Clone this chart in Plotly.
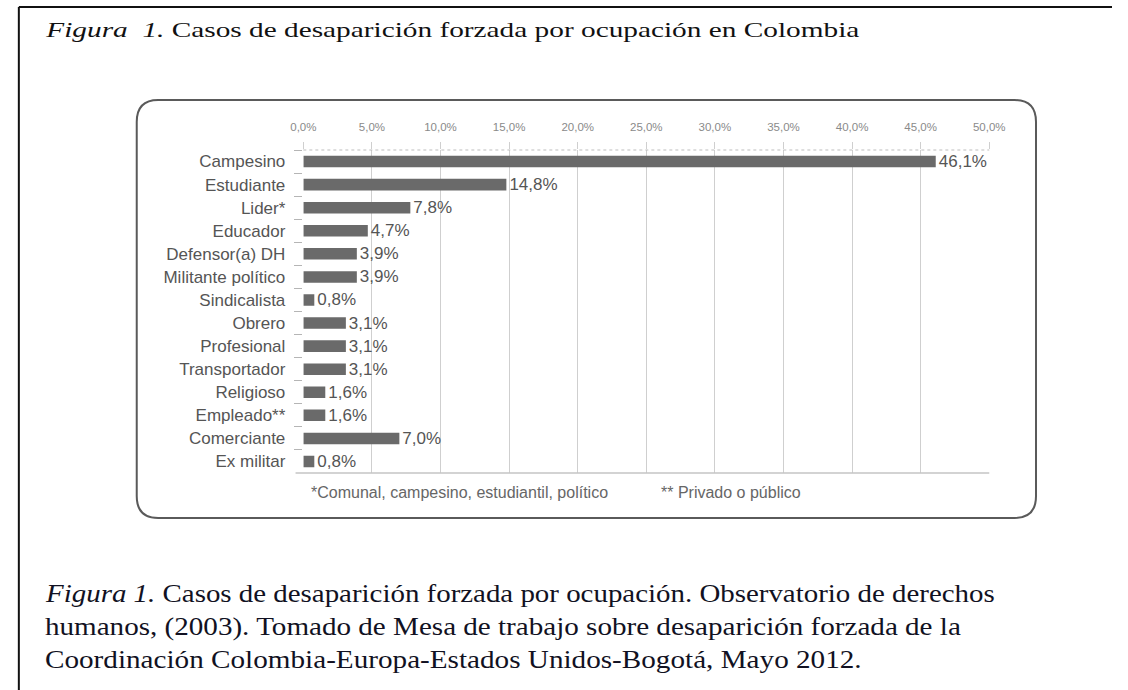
import plotly.graph_objects as go

# ---- data ----
categories = ["Campesino", "Estudiante", "Lider*", "Educador", "Defensor(a) DH",
              "Militante político", "Sindicalista", "Obrero", "Profesional",
              "Transportador", "Religioso", "Empleado**", "Comerciante", "Ex militar"]
values = [46.1, 14.8, 7.8, 4.7, 3.9, 3.9, 0.8, 3.1, 3.1, 3.1, 1.6, 1.6, 7.0, 0.8]
tick_vals = [0, 5, 10, 15, 20, 25, 30, 35, 40, 45, 50]
tick_text = ["0,0%", "5,0%", "10,0%", "15,0%", "20,0%", "25,0%", "30,0%",
             "35,0%", "40,0%", "45,0%", "50,0%"]
value_labels = [f"{v:.1f}%".replace(".", ",") for v in values]

title_text = "<i>Figura\u00a0\u00a01.</i> Casos de desaparición forzada por ocupación en Colombia"
caption_lines = [
    "<i>Figura 1.</i> Casos de desaparición forzada por ocupación. Observatorio de derechos",
    "humanos, (2003). Tomado de Mesa de trabajo sobre desaparición forzada de la",
    "Coordinación Colombia-Europa-Estados Unidos-Bogotá, Mayo 2012.",
]
footnote_1 = "*Comunal, campesino, estudiantil, político"
footnote_2 = "** Privado o público"

W, H = 1128, 690


def px(x):
    return x / W


def py(y):
    return 1 - y / H


SANS = "Liberation Sans, Arial, sans-serif"
SERIF = "Liberation Serif, Times New Roman, serif"

fig = go.Figure()
fig.add_trace(go.Bar(
    x=values, y=categories, orientation="h",
    marker=dict(color="#6a6a6a", line=dict(width=0)),
    width=0.5,
    text=value_labels, textposition="outside", constraintext="none",
    textfont=dict(family=SANS, size=17, color="#555555"),
    cliponaxis=False, hoverinfo="skip",
))

# plot area in pixels
PL, PR, PT, PB = 298, 1002, 150, 473

fig.update_layout(
    width=W, height=H,
    margin=dict(l=0, r=0, t=0, b=0),
    paper_bgcolor="white", plot_bgcolor="white",
    showlegend=False,
    bargap=0.5,
    xaxis=dict(
        domain=[px(PL), px(PR)], range=[0, 50], side="top",
        tickvals=tick_vals, ticktext=tick_text,
        tickfont=dict(family=SANS, size=11.5, color="#8a8a8a"),
        showgrid=True, gridcolor="#cfcfcf", gridwidth=1,
        ticks="outside", ticklen=7, tickcolor="#cfcfcf",
        zeroline=False, showline=False, fixedrange=True,
        ticklabelstandoff=6,
    ),
    yaxis=dict(
        domain=[py(PB), py(PT)], autorange="reversed",
        type="category",
        tickfont=dict(family=SANS, size=17, color="#555555"),
        showgrid=False, zeroline=False, showline=False,
        ticks="outside", ticklen=8, tickcolor="#b5b5b5", tickson="boundaries",
        ticklabelstandoff=17, fixedrange=True,
    ),
)

shapes = []
# outer page frame (top and left lines)
shapes.append(dict(type="line", xref="paper", yref="paper",
                   x0=px(6), x1=px(W), y0=py(7), y1=py(7),
                   line=dict(color="#111111", width=2)))
shapes.append(dict(type="line", xref="paper", yref="paper",
                   x0=px(6), x1=px(6), y0=py(7), y1=py(H),
                   line=dict(color="#111111", width=2)))

# rounded rectangle around the chart
x0, x1, y0, y1, r = 127, 1050, 100, 518, 22


def P(x, y):
    return f"{px(x):.5f},{py(y):.5f}"


path = (f"M {P(x0 + r, y0)} L {P(x1 - r, y0)} Q {P(x1, y0)} {P(x1, y0 + r)} "
        f"L {P(x1, y1 - r)} Q {P(x1, y1)} {P(x1 - r, y1)} "
        f"L {P(x0 + r, y1)} Q {P(x0, y1)} {P(x0, y1 - r)} "
        f"L {P(x0, y0 + r)} Q {P(x0, y0)} {P(x0 + r, y0)} Z")
shapes.append(dict(type="path", xref="paper", yref="paper", path=path,
                   line=dict(color="#5a5a5a", width=2), layer="below"))

# plot frame lines: top dotted, bottom solid (extends to tick)
shapes.append(dict(type="line", xref="paper", yref="paper",
                   x0=px(PL), x1=px(PR), y0=py(PT), y1=py(PT),
                   line=dict(color="#bdbdbd", width=1, dash="dot")))
shapes.append(dict(type="line", xref="paper", yref="paper",
                   x0=px(PL - 8), x1=px(PR), y0=py(PB), y1=py(PB),
                   line=dict(color="#c4c4c4", width=1.5)))
fig.update_layout(shapes=shapes)

annotations = []
annotations.append(dict(text=title_text, xref="paper", yref="paper",
                        x=px(31), y=py(29), xanchor="left", yanchor="middle",
                        align="left", showarrow=False,
                        font=dict(family=SERIF, size=22, color="#111111")))
for i, line in enumerate(caption_lines):
    annotations.append(dict(text=line, xref="paper", yref="paper",
                            x=px(31), y=py(593 + 33 * i), xanchor="left",
                            yanchor="middle", align="left", showarrow=False,
                            font=dict(family=SERIF, size=26, color="#111122")))
annotations.append(dict(text=footnote_1, xref="paper", yref="paper",
                        x=px(304), y=py(492), xanchor="left", yanchor="middle",
                        showarrow=False,
                        font=dict(family=SANS, size=16, color="#666666")))
annotations.append(dict(text=footnote_2, xref="paper", yref="paper",
                        x=px(663), y=py(492), xanchor="left", yanchor="middle",
                        showarrow=False,
                        font=dict(family=SANS, size=16, color="#666666")))
fig.update_layout(annotations=annotations)

# The source page's serif text is set wider than the font's natural width;
# stretch the title and caption lines horizontally to the source extents.
text_widths = [815, 950, 917, 817]
post_js = """
document.body.style.margin='0';
document.body.style.overflow='hidden';
var targets = %s;
var els = document.querySelectorAll('g.annotation text.annotation-text');
for (var i = 0; i < targets.length && i < els.length; i++) {
  var el = els[i];
  var bb = el.getBBox();
  if (bb.width > 0) {
    var sx = targets[i] / bb.width;
    var old = el.getAttribute('transform') || '';
    el.setAttribute('transform', old + ' translate(' + bb.x + ',0) scale(' + sx + ',1) translate(' + (-bb.x) + ',0)');
  }
}
""" % (text_widths,)

fig.write_html("out.html", config={"displayModeBar": False}, post_script=post_js)
